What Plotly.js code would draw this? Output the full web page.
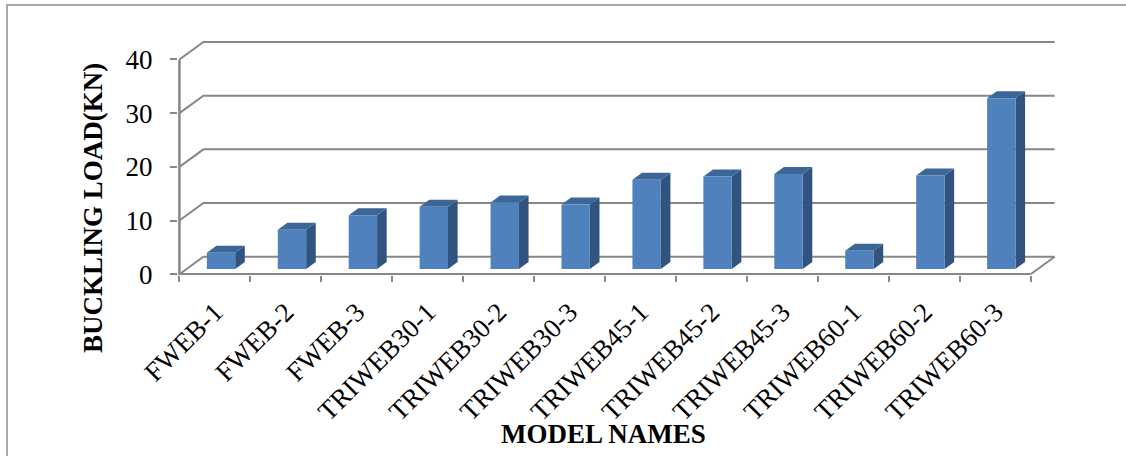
<!DOCTYPE html>
<html>
<head>
<meta charset="utf-8">
<script src="https://cdn.plot.ly/plotly-3.0.1.min.js"></script>
<style>
  html, body { margin: 0; padding: 0; background: #ffffff; }
  #chart { width: 1126px; height: 456px; }
</style>
</head>
<body>
<div id="chart"></div>
<script>
// Model names along the category axis
const categories = [
  'FWEB-1', 'FWEB-2', 'FWEB-3',
  'TRIWEB30-1', 'TRIWEB30-2', 'TRIWEB30-3',
  'TRIWEB45-1', 'TRIWEB45-2', 'TRIWEB45-3',
  'TRIWEB60-1', 'TRIWEB60-2', 'TRIWEB60-3'
];

// Buckling load of each model, kN
const loads = [3.0, 7.3, 10.0, 11.6, 12.4, 12.0, 16.6, 17.2, 17.7, 3.4, 17.4, 31.8];

// Value axis ticks
const yTicks = [0, 10, 20, 30, 40];

// ---- oblique 3-D box geometry (in axis units) ----
const N = categories.length;
const DX = 0.3385;      // depth shift along x for the full floor depth
const DY = 3.26;        // depth shift along y for the full floor depth
const BAR_L = 0.285;    // bar left edge inside its category slot
const BAR_R = 0.685;    // bar right edge inside its category slot
const D_FRONT = 0.30;   // bar front face position as a fraction of depth
const D_BACK = 0.70;    // bar back face position as a fraction of depth

const GRID = '#878787';
const FONT = '"Liberation Serif", "Times New Roman", serif';

// back wall + side wall gridlines, plus floor right edge
const gx = [], gy = [];
yTicks.forEach(v => {
  gx.push(0, DX, N + DX, null);
  gy.push(v, v + DY, v + DY, null);
});
gx.push(N, N + DX, null);
gy.push(0, DY, null);

// front axes: value axis and floor front edge
const ax = [0, 0, N];
const ay = [yTicks[yTicks.length - 1], 0, 0];

// bar faces
const fx = [], fy = [], tx = [], ty = [], sx = [], sy = [];
const fdx = D_FRONT * DX, fdy = D_FRONT * DY;
const bdx = D_BACK * DX, bdy = D_BACK * DY;
loads.forEach((v, i) => {
  const l = i + BAR_L, r = i + BAR_R;
  // front face
  fx.push(l + fdx, r + fdx, r + fdx, l + fdx, l + fdx, null);
  fy.push(fdy, fdy, v + fdy, v + fdy, fdy, null);
  // top face
  tx.push(l + fdx, r + fdx, r + bdx, l + bdx, l + fdx, null);
  ty.push(v + fdy, v + fdy, v + bdy, v + bdy, v + fdy, null);
  // right side face
  sx.push(r + fdx, r + bdx, r + bdx, r + fdx, r + fdx, null);
  sy.push(fdy, bdy, v + bdy, v + fdy, fdy, null);
});

const face = (x, y, color) => ({
  x, y, type: 'scatter', mode: 'lines', fill: 'toself',
  fillcolor: color, line: { width: 0, color: color },
  hoverinfo: 'skip', showlegend: false
});

const traces = [
  { x: gx, y: gy, type: 'scatter', mode: 'lines',
    line: { color: GRID, width: 2 }, hoverinfo: 'skip', showlegend: false },
  { x: ax, y: ay, type: 'scatter', mode: 'lines',
    line: { color: GRID, width: 2.5 }, hoverinfo: 'skip', showlegend: false },
  face(sx, sy, '#31537F'),
  face(tx, ty, '#3C6697'),
  face(fx, fy, '#4F81BD'),
  // carrier for the label axis
  { x: [0.5], y: [0], xaxis: 'x2', type: 'scatter', mode: 'markers',
    marker: { opacity: 0 }, hoverinfo: 'skip', showlegend: false }
];

const M = { l: 178, r: 67, t: 38, b: 181 };
const W = 1126 - M.l - M.r, H = 456 - M.t - M.b;
const px = p => (p - M.l) / W;          // pixel -> paper x
const py = p => (456 - M.b - p) / H;    // pixel -> paper y

const X_RANGE = [-0.02, 12.4];
const layout = {
  width: 1126, height: 456,
  margin: M,
  paper_bgcolor: '#ffffff', plot_bgcolor: 'rgba(0,0,0,0)',
  showlegend: false,
  xaxis: {
    range: X_RANGE, fixedrange: true, automargin: false,
    showgrid: false, zeroline: false, showline: false,
    tickmode: 'array', tickvals: categories.map((c, i) => i).concat([N]),
    ticks: 'outside', ticklen: 6, tickwidth: 2, tickcolor: GRID,
    showticklabels: false
  },
  xaxis2: {
    overlaying: 'x', anchor: 'y', side: 'bottom',
    range: X_RANGE, fixedrange: true, automargin: false,
    showgrid: false, zeroline: false, showline: false,
    tickmode: 'array', tickvals: categories.map((c, i) => i + 0.5),
    ticktext: categories, ticks: '', tickangle: -45,
    ticklabelstandoff: 15,
    tickfont: { family: FONT, size: 27, color: '#000000' }
  },
  yaxis: {
    range: [-0.15, 44], fixedrange: true, automargin: false,
    showgrid: false, zeroline: false, showline: false,
    tickmode: 'array', tickvals: yTicks,
    ticks: 'outside', ticklen: 7, tickwidth: 2, tickcolor: GRID,
    ticklabelstandoff: 12,
    tickfont: { family: FONT, size: 27, color: '#000000' }
  },
  annotations: [
    { text: '<b>BUCKLING LOAD(KN)</b>', xref: 'paper', yref: 'paper',
      x: px(93), y: py(208), xanchor: 'center', yanchor: 'middle',
      textangle: -90, showarrow: false,
      font: { family: FONT, size: 27, color: '#000000' } },
    { text: '<b>MODEL NAMES</b>', xref: 'paper', yref: 'paper',
      x: px(603), y: py(434), xanchor: 'center', yanchor: 'middle',
      showarrow: false,
      font: { family: FONT, size: 27, color: '#000000' } }
  ],
  shapes: [
    { type: 'rect', xref: 'paper', yref: 'paper', layer: 'below',
      x0: px(7), y0: py(470), x1: px(1140), y1: py(5),
      line: { color: '#8a8a8a', width: 1.5 }, fillcolor: 'rgba(0,0,0,0)' }
  ]
};

Plotly.newPlot('chart', traces, layout, { staticPlot: true, displayModeBar: false });
</script>
</body>
</html>
